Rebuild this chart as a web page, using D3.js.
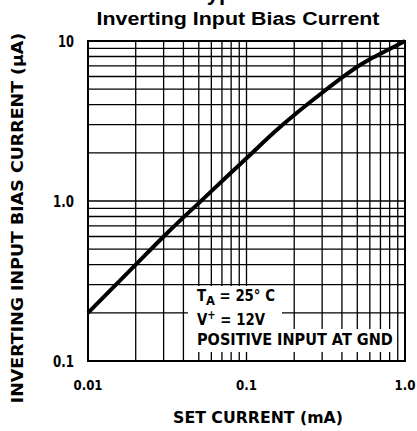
<!DOCTYPE html>
<html>
<head>
<meta charset="utf-8">
<script src="https://cdn.jsdelivr.net/npm/d3@7"></script>
<style>
  body { margin: 0; background: #fff; }
  svg { display: block; }
  text { font-family: "DejaVu Sans", sans-serif; font-weight: bold; fill: #000; }
</style>
</head>
<body>
<div id="chart"></div>
<script>
// set current (mA) vs inverting input bias current (uA)
var setCurrent = [0.01, 0.02, 0.03, 0.04, 0.05, 0.07, 0.1, 0.15, 0.2, 0.3, 0.4, 0.5, 0.6, 0.8, 1.0];
var biasCurrent = [0.2, 0.4, 0.6, 0.79, 0.97, 1.33, 1.85, 2.7, 3.45, 4.75, 5.9, 6.9, 7.7, 8.9, 10];

var xTicks = [0.01, 0.1, 1.0];
var xTickLabels = ["0.01", "0.1", "1.0"];
var yTicks = [0.1, 1, 10];
var yTickLabels = ["0.1", "1.0", "10"];

var width = 417, height = 431;
var svg = d3.select("#chart").append("svg")
    .attr("width", width)
    .attr("height", height);

var x = d3.scaleLog().domain([0.01, 1]).range([88, 405]);
var y = d3.scaleLog().domain([0.1, 10]).range([361, 41]);

// squeeze a text horizontally to a given width (narrow font look)
function squeeze(sel, w) {
  var n = sel.node().getComputedTextLength();
  var ax = +sel.attr("x"), ay = +sel.attr("y");
  sel.attr("x", 0).attr("y", 0);
  sel.attr("transform", "translate(" + ax + "," + ay + ") scale(" + (w / n) + ",1)");
  return sel;
}

// grid values 1..9 per decade
function gridVals(lo, hi) {
  var v = [];
  for (var e = Math.log10(lo); e < Math.log10(hi) - 0.01; e++) {
    for (var m = 1; m < 10; m++) v.push(m * Math.pow(10, e));
  }
  v.push(hi);
  return v;
}

var grid = svg.append("g");
grid.selectAll("line.v")
  .data(gridVals(0.01, 1))
  .enter().append("line")
    .attr("x1", function(d) { return x(d); })
    .attr("x2", function(d) { return x(d); })
    .attr("y1", y(10)).attr("y2", y(0.1))
    .attr("stroke", "#000").attr("stroke-width", 1.3);
grid.selectAll("line.h")
  .data(gridVals(0.1, 10))
  .enter().append("line")
    .attr("y1", function(d) { return y(d); })
    .attr("y2", function(d) { return y(d); })
    .attr("x1", x(0.01)).attr("x2", x(1))
    .attr("stroke", "#000").attr("stroke-width", 1.3);

// frame
svg.append("rect")
  .attr("x", x(0.01)).attr("y", y(10))
  .attr("width", x(1) - x(0.01)).attr("height", y(0.1) - y(10))
  .attr("fill", "none").attr("stroke", "#000").attr("stroke-width", 2);

// curve
var line = d3.line()
  .x(function(d, i) { return x(setCurrent[i]); })
  .y(function(d) { return y(d); })
  .curve(d3.curveCatmullRom.alpha(0.5));
svg.append("path")
  .datum(biasCurrent)
  .attr("d", line)
  .attr("fill", "none")
  .attr("stroke", "#000")
  .attr("stroke-width", 4);

// condition box (white patches behind text)
svg.append("rect").attr("x", 188).attr("y", 286).attr("width", 104).attr("height", 23).attr("fill", "#fff");
svg.append("rect").attr("x", 188).attr("y", 309).attr("width", 94).attr("height", 20).attr("fill", "#fff");
svg.append("rect").attr("x", 188).attr("y", 329).attr("width", 206).attr("height", 23).attr("fill", "#fff");

var t1 = svg.append("text").attr("x", 197).attr("y", 301).style("font-size", "15px");
t1.append("tspan").text("T");
t1.append("tspan").attr("dy", 4).style("font-size", "13px").text("A");
t1.append("tspan").attr("dy", -4).text(" = 25\u00B0 C");
squeeze(t1, 78);

var t2 = svg.append("text").attr("x", 197).attr("y", 325).style("font-size", "16px");
t2.append("tspan").text("V");
t2.append("tspan").attr("dy", -6).style("font-size", "12px").text("+");
t2.append("tspan").attr("dy", 6).text(" = 12V");
squeeze(t2, 68);

squeeze(svg.append("text").attr("x", 197).attr("y", 345)
  .style("font-size", "16px")
  .text("POSITIVE INPUT AT GND"), 196);

// tick labels
svg.selectAll("text.xt")
  .data(xTicks)
  .enter().append("text")
    .attr("x", function(d) { return x(d); })
    .attr("y", 390)
    .attr("text-anchor", "middle")
    .style("font-size", "14px")
    .text(function(d, i) { return xTickLabels[i]; })
    .each(function(d, i) { squeeze(d3.select(this), i === 0 ? 29 : 21); });

svg.selectAll("text.yt")
  .data(yTicks)
  .enter().append("text")
    .attr("x", 74)
    .attr("y", function(d) { return y(d) + 6; })
    .attr("text-anchor", "end")
    .style("font-size", "15px")
    .text(function(d, i) { return yTickLabels[i]; })
    .each(function(d, i) { squeeze(d3.select(this), i === 2 ? 16 : 21); });

// axis titles
squeeze(svg.append("text")
  .attr("x", 258).attr("y", 423)
  .attr("text-anchor", "middle")
  .style("font-size", "16px")
  .text("SET CURRENT (mA)"), 170);

var yl = svg.append("text")
  .attr("text-anchor", "middle")
  .style("font-size", "16px")
  .text("INVERTING INPUT BIAS CURRENT (\u03BCA)");
var ylw = yl.node().getComputedTextLength();
yl.attr("transform", "translate(23,218) rotate(-90) scale(" + (371 / ylw) + ",1)");

// titles (top one is cut off by the frame edge, as in the source)
svg.append("text")
  .attr("x", 195).attr("y", 0)
  .style("font-family", "'Liberation Sans', Arial, sans-serif")
  .style("font-size", "22px")
  .text("Typical Performance Characteristics");

svg.append("text")
  .attr("x", 238).attr("y", 25)
  .attr("text-anchor", "middle")
  .attr("textLength", 283).attr("lengthAdjust", "spacingAndGlyphs")
  .style("font-family", "'Liberation Sans', Arial, sans-serif")
  .style("font-size", "18px")
  .text("Inverting Input Bias Current");
</script>
</body>
</html>
